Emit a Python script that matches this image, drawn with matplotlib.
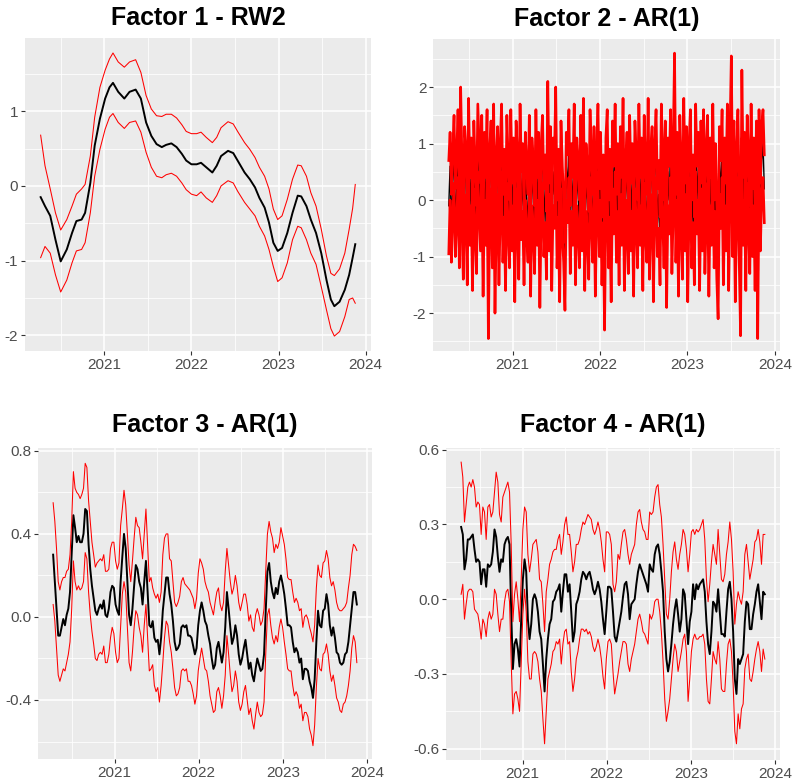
import numpy as np
import matplotlib.pyplot as plt

plt.rcParams['font.family'] = ['Liberation Sans', 'DejaVu Sans']

# time span shared by the weekly/daily series (decimal years)
START, END = 2020.27, 2023.88

# ---- Factor 1 - RW2 ----
f1_year = [2020.27, 2020.32, 2020.38, 2020.44, 2020.50, 2020.57, 2020.63, 2020.68, 2020.74, 2020.78,
           2020.84, 2020.89, 2020.95, 2021.01, 2021.06, 2021.10, 2021.16, 2021.23, 2021.29, 2021.36,
           2021.42, 2021.48, 2021.54, 2021.60, 2021.66, 2021.71, 2021.77, 2021.83, 2021.89, 2021.94,
           2022.00, 2022.06, 2022.11, 2022.17, 2022.24, 2022.29, 2022.34, 2022.42, 2022.48, 2022.53,
           2022.61, 2022.67, 2022.73, 2022.78, 2022.84, 2022.89, 2022.94, 2022.99, 2023.04, 2023.10,
           2023.16, 2023.22, 2023.26, 2023.32, 2023.37, 2023.43, 2023.49, 2023.55, 2023.60, 2023.64,
           2023.70, 2023.76, 2023.81, 2023.85, 2023.88]
f1_mean = [-0.15, -0.27, -0.40, -0.72, -1.01, -0.85, -0.63, -0.47, -0.45, -0.36,
           0.04, 0.54, 0.90, 1.17, 1.32, 1.38, 1.26, 1.17, 1.26, 1.29,
           1.17, 0.85, 0.67, 0.56, 0.52, 0.55, 0.57, 0.52, 0.43, 0.34,
           0.29, 0.29, 0.31, 0.25, 0.18, 0.27, 0.40, 0.47, 0.44, 0.34,
           0.18, 0.09, -0.02, -0.16, -0.29, -0.49, -0.76, -0.87, -0.83, -0.63,
           -0.36, -0.13, -0.14, -0.27, -0.45, -0.63, -0.90, -1.26, -1.52, -1.61,
           -1.55, -1.39, -1.19, -0.96, -0.78]
f1_upper = [0.68, 0.27, -0.04, -0.36, -0.59, -0.45, -0.27, -0.11, -0.04, 0.02,
            0.40, 0.92, 1.32, 1.55, 1.70, 1.78, 1.66, 1.59, 1.66, 1.69,
            1.52, 1.21, 1.03, 0.94, 0.93, 0.96, 0.96, 0.91, 0.82, 0.73,
            0.70, 0.70, 0.72, 0.65, 0.58, 0.65, 0.78, 0.86, 0.83, 0.73,
            0.58, 0.49, 0.38, 0.25, 0.13, -0.04, -0.31, -0.45, -0.40, -0.18,
            0.09, 0.28, 0.27, 0.13, -0.09, -0.27, -0.58, -0.94, -1.17, -1.20,
            -1.11, -0.90, -0.58, -0.30, 0.02]
f1_lower = [-0.96, -0.81, -0.90, -1.19, -1.42, -1.26, -1.03, -0.87, -0.85, -0.76,
            -0.36, 0.13, 0.49, 0.76, 0.92, 0.97, 0.85, 0.77, 0.85, 0.87,
            0.72, 0.45, 0.25, 0.13, 0.11, 0.15, 0.17, 0.13, 0.04, -0.05,
            -0.11, -0.13, -0.08, -0.16, -0.22, -0.13, 0.00, 0.07, 0.04, -0.07,
            -0.22, -0.31, -0.40, -0.54, -0.67, -0.85, -1.08, -1.28, -1.23, -1.03,
            -0.72, -0.54, -0.56, -0.72, -0.90, -1.05, -1.35, -1.66, -1.91, -2.01,
            -1.95, -1.75, -1.52, -1.50, -1.57]

# ---- Factor 2 - AR(1) ----
f2_mean = [-0.1, 0.6, -0.5, 0.3, 0.9, -0.4, 0.2, 1.0, -0.6, 1.4, 0.1, -0.8, 0.7, 0.3, -0.9, 1.2, -0.2, 0.5, -1.0, 0.8,
           0.0, -0.7, 1.1, 0.4, -0.3, 0.9, -1.1, 0.6, -0.2, 1.0, -1.85, 0.3, 0.8, -0.6, 1.1, -1.4, 0.2, 0.7, -0.9, 0.4,
           1.1, -0.5, 0.3, -1.0, 0.9, 0.1, -0.6, 1.0, -0.3, 0.5, -1.2, 0.8, 0.2, -0.8, 1.1, -0.1, 0.4, -0.9, 0.6, 0.0,
           -0.5, 0.9, -1.1, 0.5, 0.1, -0.7, 1.0, -0.2, 0.6, -1.3, 0.4, 0.9, -0.4, 0.2, -0.8, 1.5, -0.3, 0.7, -1.0, 0.5,
           0.1, 1.4, -0.6, 0.3, -1.2, 0.8, 0.0, -0.5, -1.35, 0.6, 0.2, 1.0, -0.7, 0.4, -0.2, 1.1, -0.9, 0.5, 0.1, -0.6,
           0.9, -0.3, 1.2, -1.0, 0.4, 0.0, -0.8, 1.0, 0.2, -0.5, 0.7, -1.1, 0.3, 1.1, -0.4, 0.6, -0.9, 0.2, -1.7, 0.5,
           1.0, -0.6, 0.3, -1.2, 0.8, 0.0, 1.1, -0.5, 0.4, -0.9, 0.7, -0.2, 1.2, -1.0, 0.1, 0.6, -0.7, 0.9, -0.3, 0.4,
           -1.1, 0.8, 0.2, -0.6, 1.1, -0.2, 0.5, -1.0, 0.9, 0.0, -0.5, 1.2, -0.8, 0.3, 0.7, -1.2, 0.4, 1.0, -0.4, 0.1,
           -0.9, 1.1, 0.3, -0.6, 0.8, -1.3, 0.5, 0.0, 1.0, -0.7, 0.4, 2.0, -0.5, 0.6, -1.1, 0.9, 0.1, -0.8, 1.2, -0.3,
           0.7, -1.2, 0.4, 1.0, -0.6, 0.2, -0.9, 1.1, 0.0, 0.6, -1.0, 0.8, -0.3, 1.0, -0.7, 0.3, 0.9, -1.1, 0.5, -0.2,
           1.1, -0.6, 0.4, -0.8, -1.5, 0.7, 0.1, 1.0, -0.9, 0.5, -0.3, 1.1, -1.0, 0.6, 2.0, -0.4, 0.8, -1.2, 0.3, 1.0,
           -0.5, -1.8, 1.7, -0.2, 0.6, -1.0, 0.9, 0.2, -0.7, 1.1, -0.4, 0.5, -1.0, 0.8, -1.85, 1.0, -0.3, 0.7, 1.0, 0.2]
f2_upper = [0.7, 1.2, 0.1, 0.9, 1.5, 0.2, 0.8, 1.6, 0.0, 2.0, 0.7, -0.2, 1.3, 0.9, -0.3, 1.8, 0.4, 1.1, -0.4, 1.4,
            0.6, -0.1, 1.7, 1.0, 0.3, 1.5, -0.5, 1.2, 0.4, 1.6, -1.25, 0.9, 1.4, 0.0, 1.7, -0.8, 0.8, 1.3, -0.3, 1.0,
            1.7, 0.1, 0.9, -0.4, 1.5, 0.7, 0.0, 1.6, 0.3, 1.1, -0.6, 1.4, 0.8, -0.2, 1.7, 0.5, 1.0, -0.3, 1.2, 0.6,
            0.1, 1.5, -0.5, 1.1, 0.7, -0.1, 1.6, 0.4, 1.2, -0.7, 1.0, 1.5, 0.2, 0.8, -0.2, 2.1, 0.3, 1.3, -0.4, 1.1,
            0.7, 2.0, 0.0, 0.9, -0.6, 1.4, 0.6, 0.1, -0.75, 1.2, 0.8, 1.6, -0.1, 1.0, 0.4, 1.7, -0.3, 1.1, 0.7, 0.0,
            1.5, 0.3, 1.8, -0.4, 1.0, 0.6, -0.2, 1.6, 0.8, 0.1, 1.3, -0.5, 0.9, 1.7, 0.2, 1.2, -0.3, 0.8, -1.1, 1.1,
            1.6, 0.0, 0.9, -0.6, 1.4, 0.6, 1.7, 0.1, 1.0, -0.3, 1.3, 0.4, 1.8, -0.4, 0.7, 1.2, -0.1, 1.5, 0.3, 1.0,
            -0.5, 1.4, 0.8, 0.0, 1.7, 0.4, 1.1, -0.4, 1.5, 0.6, 0.1, 1.8, -0.2, 0.9, 1.3, -0.6, 1.0, 1.6, 0.2, 0.7,
            -0.3, 1.7, 0.9, 0.0, 1.4, -0.7, 1.1, 0.6, 1.6, -0.1, 1.0, 2.6, 0.1, 1.2, -0.5, 1.5, 0.7, -0.2, 1.8, 0.3,
            1.3, -0.6, 1.0, 1.6, 0.0, 0.8, -0.3, 1.7, 0.6, 1.2, -0.4, 1.4, 0.3, 1.6, -0.1, 0.9, 1.5, -0.5, 1.1, 0.4,
            1.7, 0.0, 1.0, -0.2, -0.9, 1.3, 0.7, 1.6, -0.3, 1.1, 0.3, 1.7, -0.4, 1.2, 2.55, 0.2, 1.4, -0.6, 0.9, 1.6,
            0.1, -1.2, 2.3, 0.4, 1.2, -0.4, 1.5, 0.8, -0.1, 1.7, 0.2, 1.1, -0.4, 1.4, -1.25, 1.6, 0.3, 1.3, 1.6, 0.8]
f2_lower = [-0.95, 0.0, -1.1, -0.3, 0.3, -1.0, -0.4, 0.4, -1.2, 0.8, -0.5, -1.4, 0.1, -0.3, -1.5, 0.6, -0.8, -0.1, -1.6, 0.2,
            -0.6, -1.3, 0.5, -0.2, -0.9, 0.3, -1.7, 0.0, -0.8, 0.4, -2.45, -0.3, 0.2, -1.2, 0.5, -2.0, -0.4, 0.1, -1.5, -0.2,
            0.5, -1.1, -0.3, -1.6, 0.3, -0.5, -1.2, 0.4, -0.9, -0.1, -1.8, 0.2, -0.4, -1.4, 0.5, -0.7, -0.2, -1.5, 0.0, -0.6,
            -1.1, 0.3, -1.7, -0.1, -0.5, -1.3, 0.4, -0.8, 0.0, -1.9, -0.2, 0.3, -1.0, -0.4, -1.4, 0.9, -0.9, 0.1, -1.6, -0.1,
            -0.5, 0.8, -1.2, -0.3, -1.8, 0.2, -0.6, -1.1, -1.95, 0.0, -0.4, 0.4, -1.3, -0.2, -0.8, 0.5, -1.5, -0.1, -0.5, -1.2,
            0.3, -0.9, 0.6, -1.6, -0.2, -0.6, -1.4, 0.4, -0.4, -1.1, 0.1, -1.7, -0.3, 0.5, -1.0, 0.0, -1.5, -0.4, -2.3, -0.1,
            0.4, -1.2, -0.3, -1.8, 0.2, -0.6, 0.5, -1.1, -0.2, -1.5, 0.1, -0.8, 0.6, -1.6, -0.5, 0.0, -1.3, 0.3, -0.9, -0.2,
            -1.7, 0.2, -0.4, -1.2, 0.5, -0.8, -0.1, -1.6, 0.3, -0.6, -1.1, 0.6, -1.4, -0.3, 0.1, -1.8, -0.2, 0.4, -1.0, -0.5,
            -1.5, 0.5, -0.3, -1.2, 0.2, -1.9, -0.1, -0.6, 0.4, -1.3, -0.2, 1.4, -1.1, 0.0, -1.7, 0.3, -0.5, -1.4, 0.6, -0.9,
            0.1, -1.8, -0.2, 0.4, -1.2, -0.4, -1.5, 0.5, -0.6, 0.0, -1.6, 0.2, -0.9, 0.4, -1.3, -0.3, 0.3, -1.7, -0.1, -0.8,
            0.5, -1.2, -0.2, -1.4, -2.1, 0.1, -0.5, 0.4, -1.5, -0.1, -0.9, 0.5, -1.6, 0.0, 1.4, -1.0, 0.2, -1.8, -0.3, 0.4,
            -1.1, -2.4, 1.1, -0.8, 0.0, -1.6, 0.3, -0.4, -1.3, 0.5, -1.0, -0.1, -1.6, 0.2, -2.45, 0.4, -0.9, 0.1, 0.4, -0.4]

# ---- Factor 3 - AR(1) ----
f3_mean = [0.30, 0.17, 0.04, -0.09, -0.09, -0.05, -0.01, -0.04, 0.01, 0.04,
           0.12, 0.31, 0.49, 0.43, 0.36, 0.39, 0.36, 0.36, 0.40, 0.52, 0.51, 0.35, 0.23, 0.15, 0.09, 0.03,
           0.01, 0.04, 0.06, 0.04, 0.08, 0.01, 0.00, 0.04, 0.12, 0.15, 0.14, 0.06, 0.03, 0.01, 0.17, 0.29, 0.40,
           0.33, 0.17, 0.01, -0.04, 0.04, 0.15, 0.25,
           0.23, 0.17, 0.14, 0.06, 0.17, 0.27, 0.12, -0.04, -0.05, -0.02, -0.10, -0.12,
           -0.11, -0.18, -0.10, 0.03, 0.11, 0.19,
           0.19, 0.11, 0.06, -0.02, -0.12, -0.16, -0.15, -0.13, -0.05, -0.04, -0.05, -0.04, -0.09, -0.09,
           -0.10, -0.14, -0.18, -0.15, -0.04, 0.03, 0.07, 0.03, -0.02, -0.04, -0.09, -0.13, -0.20, -0.25,
           -0.23, -0.15, -0.12, -0.17, -0.22, -0.17, -0.05, 0.12, 0.04, -0.05, -0.13, -0.10, -0.04, -0.09,
           -0.18, -0.23, -0.20, -0.15, -0.11, -0.18, -0.25, -0.22, -0.28, -0.31, -0.25, -0.20, -0.23, -0.26,
           -0.25, -0.18, 0.03, 0.22, 0.26, 0.17, 0.12, 0.09, 0.14, 0.11, 0.17, 0.20, 0.16, 0.11, 0.04, -0.04,
           -0.04, -0.05, -0.12, -0.17, -0.15, -0.17, -0.22, -0.20, -0.30, -0.25, -0.25, -0.26, -0.31, -0.34,
           -0.39, -0.30, -0.12, 0.03, -0.04, -0.05, 0.03, 0.04, 0.11, 0.06, -0.04, -0.09, -0.05, -0.10, -0.17,
           -0.18, -0.22, -0.23, -0.22, -0.18, -0.17, -0.12, -0.04, 0.04, 0.12, 0.12, 0.06]
f3_upper = [0.55, 0.46, 0.33, 0.17, 0.13, 0.17, 0.19, 0.19, 0.22, 0.23,
            0.30, 0.46, 0.70, 0.62, 0.60, 0.59, 0.57, 0.59, 0.62, 0.74, 0.72, 0.56, 0.46, 0.36, 0.30, 0.24,
            0.26, 0.27, 0.28, 0.27, 0.30, 0.22, 0.22, 0.23, 0.33, 0.36, 0.36, 0.27, 0.23, 0.26, 0.44, 0.52, 0.61,
            0.54, 0.40, 0.25, 0.17, 0.27, 0.38, 0.48,
            0.44, 0.43, 0.36, 0.28, 0.40, 0.52, 0.35, 0.17, 0.19, 0.14, 0.11, 0.09,
            0.11, 0.07, 0.12, 0.30, 0.38, 0.40,
            0.40, 0.28, 0.27, 0.17, 0.07, 0.05, 0.07, 0.10, 0.17, 0.19, 0.16, 0.15, 0.14, 0.13,
            0.11, 0.09, 0.04, 0.09, 0.21, 0.28, 0.26, 0.23, 0.17, 0.14, 0.12, 0.07, 0.04, 0.01,
            0.07, 0.12, 0.14, 0.06, 0.03, 0.07, 0.22, 0.33, 0.25, 0.17, 0.11, 0.14, 0.20, 0.15,
            0.07, 0.03, 0.07, 0.11, 0.11, 0.06, -0.02, 0.01, -0.05, -0.07, 0.01, 0.04, 0.01, -0.04,
            -0.02, 0.04, 0.22, 0.40, 0.46, 0.41, 0.38, 0.31, 0.35, 0.33, 0.36, 0.43, 0.39, 0.35, 0.28, 0.19,
            0.18, 0.18, 0.12, 0.07, 0.09, 0.07, 0.03, 0.04, -0.05, 0.00, 0.01, -0.01, -0.05, -0.08,
            -0.12, -0.04, 0.14, 0.25, 0.20, 0.19, 0.26, 0.27, 0.32, 0.28, 0.19, 0.15, 0.17, 0.13, 0.07,
            0.04, 0.03, 0.03, 0.04, 0.05, 0.07, 0.14, 0.20, 0.30, 0.35, 0.34, 0.32]
f3_lower = [0.06, -0.02, -0.15, -0.28, -0.31, -0.28, -0.25, -0.26, -0.22, -0.18,
            -0.12, 0.04, 0.27, 0.17, 0.13, 0.15, 0.13, 0.14, 0.17, 0.31, 0.28, 0.12, 0.01, -0.07, -0.13, -0.20,
            -0.21, -0.18, -0.17, -0.18, -0.14, -0.22, -0.22, -0.18, -0.10, -0.05, -0.08, -0.17, -0.22, -0.20,
            -0.04, 0.11, 0.17,
            0.12, -0.05, -0.22, -0.26, -0.17, -0.05, 0.03,
            0.01, -0.05, -0.09, -0.17, -0.04, 0.06, -0.10, -0.26, -0.25, -0.23, -0.33, -0.36,
            -0.34, -0.41, -0.33, -0.22, -0.10, -0.02,
            -0.04, -0.12, -0.17, -0.25, -0.34, -0.38, -0.37, -0.34, -0.26, -0.25, -0.26, -0.25, -0.31, -0.31,
            -0.33, -0.37, -0.42, -0.38, -0.26, -0.20, -0.15, -0.20, -0.25, -0.26, -0.31, -0.38, -0.42, -0.46,
            -0.45, -0.36, -0.34, -0.38, -0.44, -0.38, -0.28, -0.09, -0.18, -0.28, -0.36, -0.33, -0.26, -0.31,
            -0.41, -0.45, -0.42, -0.36, -0.33, -0.40, -0.47, -0.44, -0.50, -0.54, -0.47, -0.41, -0.46, -0.48,
            -0.47, -0.41, -0.18, 0.01, 0.04, -0.04, -0.10, -0.13, -0.09, -0.12, -0.05, -0.01, -0.05, -0.12,
            -0.18, -0.25, -0.26, -0.26, -0.33, -0.38, -0.36, -0.38, -0.44, -0.42, -0.50, -0.46, -0.46, -0.48,
            -0.54, -0.57, -0.62, -0.52, -0.34, -0.20, -0.25, -0.26, -0.18, -0.17, -0.13, -0.18, -0.26, -0.31,
            -0.28, -0.33, -0.39, -0.41, -0.45, -0.46, -0.42, -0.41, -0.38, -0.33, -0.26, -0.15, -0.09, -0.12, -0.22]

# ---- Factor 4 - AR(1) ----
f4_mean = [0.29, 0.26, 0.12, 0.16, 0.24, 0.24, 0.25, 0.26, 0.20, 0.15, 0.16, 0.15, 0.06, 0.12, 0.12, 0.05,
           0.14, 0.13, 0.14, 0.19, 0.28, 0.25, 0.17,
           0.11, 0.16, 0.15, 0.22, 0.24, 0.25, 0.22, -0.05, -0.28, -0.18, -0.16, -0.20, -0.27, -0.08, 0.08,
           0.16, 0.11, -0.08, -0.16, -0.10, 0.00, 0.02, 0.00, -0.05, -0.13, -0.16, -0.26, -0.37, -0.24, -0.16,
           -0.10, -0.08, -0.01, 0.00, 0.03, 0.04, 0.06, -0.05, 0.03, 0.10, 0.10, 0.03, 0.06, -0.05, -0.17,
           -0.13, -0.02, 0.00, 0.03, 0.08, 0.11, 0.10, 0.08, 0.10, 0.11,
           0.08, 0.04, 0.02, 0.04, 0.07, 0.04, -0.01, -0.08, -0.14, -0.05, 0.05, 0.05, 0.04, -0.05, -0.15,
           -0.17, -0.13, -0.09, -0.05, 0.01, 0.06, 0.07, 0.02, -0.08, -0.02, -0.01, 0.00, 0.06, 0.11, 0.14,
           0.12, 0.10, 0.08, 0.06, 0.03, 0.14, 0.12, 0.11, 0.18, 0.21, 0.22, 0.18, 0.11, 0.03, -0.13, -0.24,
           -0.29, -0.25, -0.18, -0.10, -0.04, 0.00, -0.06, -0.13, -0.08, 0.04, 0.02, -0.08, -0.18, -0.09,
           -0.05, 0.06, 0.00, 0.06, 0.04,
           0.06, 0.07, 0.08, 0.03, -0.09, -0.18, -0.22, -0.13, -0.01, -0.02, -0.05, 0.04, -0.05, -0.14,
           -0.14, -0.15, -0.05, 0.04, 0.07, 0.00, -0.13, -0.32, -0.38, -0.24, -0.26, -0.24, -0.22, -0.09,
           -0.01, -0.02, -0.12, -0.12, -0.06, -0.02, 0.03, 0.06, -0.01, -0.08, 0.03, 0.02]
f4_upper = [0.55, 0.49, 0.31, 0.38, 0.45, 0.47, 0.45, 0.48, 0.45, 0.37, 0.39, 0.38, 0.26, 0.37, 0.35, 0.24,
            0.37, 0.38, 0.33, 0.35, 0.43, 0.51, 0.47,
            0.34, 0.31, 0.41, 0.43, 0.45, 0.47, 0.43, 0.22, -0.09, 0.02, 0.07, 0.00, -0.09, 0.08, 0.28,
            0.37, 0.35, 0.18, 0.11, 0.16, 0.22, 0.23, 0.24, 0.19, 0.08, 0.07, -0.02, -0.13, 0.03, 0.08,
            0.14, 0.16, 0.19, 0.20, 0.20, 0.24, 0.26, 0.18, 0.23, 0.30, 0.33, 0.26, 0.26, 0.19, 0.11,
            0.15, 0.22, 0.22, 0.24, 0.28, 0.31, 0.30, 0.32, 0.34, 0.33,
            0.32, 0.28, 0.26, 0.28, 0.31, 0.28, 0.23, 0.16,
            0.11, 0.27, 0.27, 0.26, 0.22, 0.06, 0.03, 0.07, 0.18, 0.16, 0.22, 0.27, 0.28, 0.24, 0.18, 0.14,
            0.18, 0.20, 0.22, 0.30, 0.35, 0.36, 0.31, 0.28, 0.27, 0.24, 0.24, 0.35, 0.34, 0.35, 0.41, 0.45,
            0.46, 0.38, 0.33, 0.22, 0.08, -0.06, -0.08, 0.00, 0.11, 0.19, 0.23, 0.16, 0.12, 0.18, 0.22, 0.28,
            0.26, 0.20, 0.11, 0.18, 0.27, 0.28, 0.26, 0.28, 0.27,
            0.28, 0.30, 0.32, 0.24, 0.08, -0.01, 0.06, 0.15, 0.22, 0.18, 0.14, 0.28, 0.18, 0.08, 0.07, 0.10,
            0.18, 0.23, 0.31, 0.24, 0.11, -0.10, -0.02, 0.03, 0.00, -0.02, 0.03, 0.18, 0.22, 0.15, 0.08, 0.12,
            0.16, 0.23, 0.24, 0.28, 0.23, 0.14, 0.26, 0.26]
f4_lower = [0.02, 0.06, -0.08, -0.02, 0.03, 0.04, 0.04, 0.03, -0.04, -0.05, -0.06, -0.10, -0.16, -0.08,
            -0.10, -0.15, -0.08, -0.05, -0.08, -0.06, 0.04, 0.02, -0.06,
            -0.13, -0.08, -0.08, -0.01, 0.03, 0.04, -0.01, -0.25, -0.46, -0.38, -0.37, -0.40, -0.45, -0.25,
            -0.06, 0.04, -0.05, -0.25, -0.32, -0.32, -0.22, -0.21, -0.22, -0.25, -0.32, -0.37, -0.48, -0.58,
            -0.45, -0.32, -0.29, -0.26, -0.21, -0.20, -0.17, -0.18, -0.16, -0.26, -0.18, -0.13, -0.12, -0.18,
            -0.17, -0.29, -0.37, -0.32, -0.24, -0.21, -0.16, -0.12, -0.12, -0.13, -0.12, -0.14, -0.13,
            -0.15, -0.19, -0.21, -0.19, -0.16, -0.19, -0.24, -0.31,
            -0.36, -0.24, -0.17, -0.16, -0.18, -0.29, -0.38, -0.34, -0.30, -0.25, -0.21, -0.17, -0.17, -0.18,
            -0.26, -0.29, -0.24, -0.21, -0.18, -0.13, -0.08, -0.06, -0.09, -0.13, -0.14, -0.16, -0.18, -0.06,
            -0.08, -0.06, -0.01, 0.00, 0.00, -0.05, -0.13, -0.25, -0.40, -0.49, -0.45, -0.40, -0.32, -0.24,
            -0.18, -0.21, -0.29, -0.25, -0.21, -0.16, -0.14, -0.21, -0.41, -0.32, -0.21, -0.16, -0.14, -0.16,
            -0.16,
            -0.15, -0.15, -0.14, -0.18, -0.32, -0.41, -0.42, -0.32, -0.21, -0.24, -0.26, -0.17, -0.24, -0.36,
            -0.37, -0.37, -0.26, -0.18, -0.16, -0.21, -0.34, -0.53, -0.58, -0.46, -0.52, -0.44, -0.42, -0.28,
            -0.24, -0.22, -0.32, -0.33, -0.29, -0.24, -0.20, -0.17, -0.21, -0.29, -0.20, -0.24]

year_ticks = [2021, 2022, 2023, 2024]
year_minor = [2020.5, 2021.5, 2022.5, 2023.5]

fig = plt.figure(figsize=(7.95, 7.83), dpi=100)


def make_panel(rect, title, ylim, yticks, ylabels, yminor, pad):
    ax = fig.add_axes(rect)
    ax.set_facecolor('#EBEBEB')
    for s in ax.spines.values():
        s.set_visible(False)
    ax.set_xlim(2020.09, 2024.06)
    ax.set_ylim(*ylim)
    ax.set_xticks(year_ticks)
    ax.set_xticklabels([str(y) for y in year_ticks])
    ax.set_xticks(year_minor, minor=True)
    ax.set_yticks(yticks)
    ax.set_yticklabels(ylabels)
    ax.set_yticks(yminor, minor=True)
    ax.set_axisbelow(True)
    ax.grid(which='major', color='white', linewidth=1.1)
    ax.grid(which='minor', color='white', linewidth=0.55)
    ax.tick_params(which='major', length=2.8, width=0.8, color='#333333',
                   labelsize=11, labelcolor='#4D4D4D', pad=2)
    ax.tick_params(which='minor', length=0)
    ax.set_title(title, fontsize=18, fontweight='bold', pad=pad)
    return ax


def series_x(vals):
    return np.linspace(START, END, len(vals))


# panel 1
ax1 = make_panel([0.0314, 0.5517, 0.4352, 0.3997], 'Factor 1 - RW2', (-2.21, 1.98),
                 [-2, -1, 0, 1], ['-2', '-1', '0', '1'], [-1.5, -0.5, 0.5, 1.5], 9.5)
ax1.plot(f1_year, f1_mean, color='black', lw=1.4)
ax1.plot(f1_year, f1_upper, color='red', lw=0.75)
ax1.plot(f1_year, f1_lower, color='red', lw=0.75)

# panel 2
ax2 = make_panel([0.5447, 0.5517, 0.4365, 0.3985], 'Factor 2 - AR(1)', (-2.67, 2.85),
                 [-2, -1, 0, 1, 2], ['-2', '-1', '0', '1', '2'], [-2.5, -1.5, -0.5, 0.5, 1.5, 2.5], 9.5)
ax2.plot(series_x(f2_mean), f2_mean, color='black', lw=1.0)
ax2.plot(series_x(f2_upper), f2_upper, color='red', lw=1.9)
ax2.plot(series_x(f2_lower), f2_lower, color='red', lw=1.9)

# panel 3
ax3 = make_panel([0.0478, 0.0307, 0.4201, 0.3972], 'Factor 3 - AR(1)', (-0.684, 0.814),
                 [-0.4, 0.0, 0.4, 0.8], ['-0.4', '0.0', '0.4', '0.8'], [-0.6, -0.2, 0.2, 0.6], 11.5)
ax3.plot(series_x(f3_mean), f3_mean, color='black', lw=1.4)
ax3.plot(series_x(f3_upper), f3_upper, color='red', lw=0.75)
ax3.plot(series_x(f3_lower), f3_lower, color='red', lw=0.75)

# panel 4
ax4 = make_panel([0.5610, 0.0294, 0.4201, 0.3985], 'Factor 4 - AR(1)', (-0.645, 0.607),
                 [-0.6, -0.3, 0.0, 0.3, 0.6], ['-0.6', '-0.3', '0.0', '0.3', '0.6'],
                 [-0.45, -0.15, 0.15, 0.45], 11.5)
ax4.plot(series_x(f4_mean), f4_mean, color='black', lw=1.4)
ax4.plot(series_x(f4_upper), f4_upper, color='red', lw=0.75)
ax4.plot(series_x(f4_lower), f4_lower, color='red', lw=0.75)

fig.savefig('out.png', dpi=100)
